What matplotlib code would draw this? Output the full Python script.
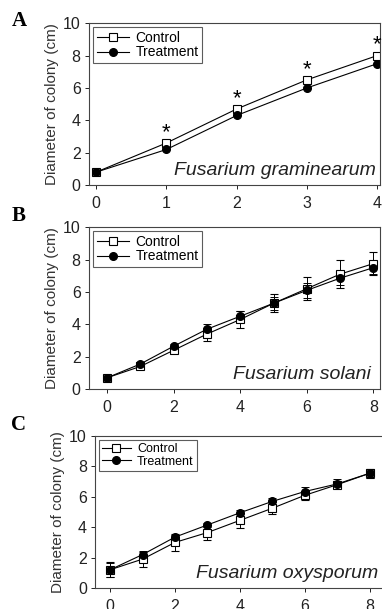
import matplotlib
matplotlib.use("Agg")
import matplotlib.pyplot as plt
from matplotlib.lines import Line2D

plt.rcParams['font.family'] = ['Liberation Sans', 'DejaVu Sans']

# Panel A: Fusarium graminearum
xa = [0, 1, 2, 3, 4]
a_control = [0.8, 2.6, 4.7, 6.5, 8.0]
a_treat = [0.8, 2.2, 4.3, 6.0, 7.5]
a_star_x = [1, 2, 3, 4]

# Panel B: Fusarium solani
xb = [0, 1, 2, 3, 4, 5, 6, 7, 8]
b_control = [0.7, 1.4, 2.4, 3.4, 4.3, 5.3, 6.2, 7.1, 7.75]
b_control_err = [0.05, 0.1, 0.15, 0.4, 0.5, 0.55, 0.7, 0.85, 0.7]
b_treat = [0.7, 1.55, 2.65, 3.7, 4.5, 5.3, 6.1, 6.85, 7.5]
b_treat_err = [0.05, 0.1, 0.15, 0.3, 0.35, 0.4, 0.45, 0.45, 0.4]

# Panel C: Fusarium oxysporum
xc = [0, 1, 2, 3, 4, 5, 6, 7, 8]
c_control = [1.2, 1.9, 3.0, 3.65, 4.45, 5.25, 6.1, 6.8, 7.55]
c_control_err = [0.5, 0.5, 0.55, 0.5, 0.5, 0.4, 0.3, 0.25, 0.3]
c_treat = [1.2, 2.2, 3.35, 4.15, 4.95, 5.7, 6.35, 6.85, 7.55]
c_treat_err = [0.45, 0.25, 0.15, 0.15, 0.2, 0.2, 0.3, 0.3, 0.3]

species = ['Fusarium graminearum', 'Fusarium solani', 'Fusarium oxysporum']
letters = ['A', 'B', 'C']
legend_labels = ['Control', 'Treatment']
ylabel = 'Diameter of colony (cm)'

fig = plt.figure(figsize=(3.82, 6.09), dpi=100)

axA = fig.add_axes([0.233, 0.696, 0.762, 0.266])
axB = fig.add_axes([0.233, 0.361, 0.762, 0.266])
axC = fig.add_axes([0.249, 0.0345, 0.763, 0.2495])

lw = 0.8
ms = 5.5

def handles():
    return [Line2D([], [], color='black', lw=lw, marker='s', mfc='white', mec='black', ms=ms, mew=0.8),
            Line2D([], [], color='black', lw=lw, marker='o', mfc='black', mec='black', ms=ms)]

def style(ax, xlim, xticks, sp, legfs, spx):
    ax.set_xlim(*xlim)
    ax.set_ylim(0, 10)
    ax.set_xticks(xticks)
    ax.set_yticks([0, 2, 4, 6, 8, 10])
    ax.tick_params(direction='out', length=3, width=0.7, labelsize=11.5, colors='#222222', pad=3)
    ax.tick_params(axis='x', pad=5)
    for s in ax.spines.values():
        s.set_linewidth(0.8)
        s.set_color('#444444')
    ax.set_ylabel(ylabel, fontsize=11, labelpad=3, color='#333333')
    ax.text(spx, 0.04, sp, transform=ax.transAxes, ha='right', va='bottom',
            fontsize=14, style='italic', color='#222222')
    leg = ax.legend(handles(), legend_labels, loc='upper left', fontsize=legfs, frameon=True,
                    fancybox=False, edgecolor='#333333', handlelength=2.3, borderpad=0.25,
                    labelspacing=0.05, handletextpad=0.5, borderaxespad=0.3)
    leg.get_frame().set_linewidth(0.8)

# Panel A
axA.plot(xa, a_control, '-s', color='black', mfc='white', mec='black', lw=lw, ms=ms, mew=0.8)
axA.plot(xa, a_treat, '-o', color='black', mfc='black', lw=lw, ms=ms)
for xs in a_star_x:
    axA.text(xs, a_control[xs] + 0.3, '*', ha='center', va='baseline', fontsize=16)
style(axA, (-0.1, 4.04), xa, species[0], 10, 0.985)

# Panel B
ekw = dict(capsize=3, elinewidth=0.7, capthick=0.7)
axB.errorbar(xb, b_control, yerr=b_control_err, fmt='-s', color='black', mfc='white', mec='black',
             lw=lw, ms=ms, mew=0.8, **ekw)
axB.errorbar(xb, b_treat, yerr=b_treat_err, fmt='-o', color='black', mfc='black',
             lw=lw, ms=ms, **ekw)
style(axB, (-0.54, 8.2), [0, 2, 4, 6, 8], species[1], 10, 0.97)

# Panel C
axC.errorbar(xc, c_control, yerr=c_control_err, fmt='-s', color='black', mfc='white', mec='black',
             lw=lw, ms=ms, mew=0.8, **ekw)
axC.errorbar(xc, c_treat, yerr=c_treat_err, fmt='-o', color='black', mfc='black',
             lw=lw, ms=ms, **ekw)
style(axC, (-0.463, 8.52), [0, 2, 4, 6, 8], species[2], 9, 0.972)

# Panel letters
for ltr, yy in zip(letters, [0.966, 0.645, 0.302]):
    fig.text(0.03, yy, ltr, fontsize=15, fontweight='bold', family='Liberation Serif',
             ha='left', va='center')

fig.savefig('out.png', dpi=100)
